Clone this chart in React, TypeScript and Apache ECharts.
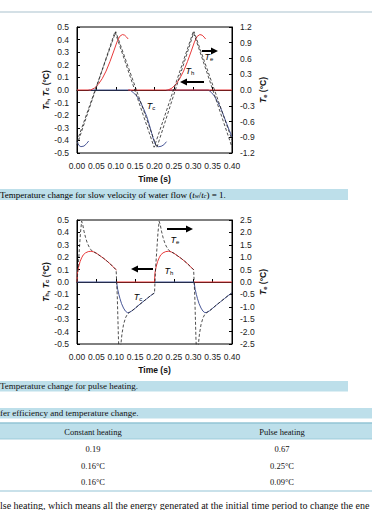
import React, { useEffect, useRef } from "react";
import * as echarts from "echarts";

type Pt = [number, number];

// ---------- Figure 1: slow velocity of water flow ----------
const slowTh: Pt[][] = [
  [[0, 0], [0.035, 0], [0.045, 0.015], [0.055, 0.045], [0.065, 0.09], [0.075, 0.15], [0.085, 0.225], [0.095, 0.31], [0.103, 0.38], [0.11, 0.425], [0.117, 0.44], [0.123, 0.435], [0.128, 0.42], [0.132, 0.405]],
  [[0.132, 0], [0.4, 0]],
  [[0.235, 0], [0.245, 0.015], [0.255, 0.045], [0.265, 0.09], [0.275, 0.15], [0.285, 0.225], [0.295, 0.31], [0.303, 0.38], [0.31, 0.425], [0.317, 0.44], [0.323, 0.435], [0.328, 0.42], [0.332, 0.405]],
];
const slowTc: Pt[][] = [
  [[0, -0.41], [0.005, -0.44], [0.01, -0.45], [0.018, -0.445], [0.025, -0.425], [0.03, -0.405]],
  [[0.03, 0], [0.137, 0], [0.145, -0.02], [0.155, -0.05], [0.163, -0.09], [0.172, -0.15], [0.18, -0.21], [0.187, -0.28], [0.193, -0.345], [0.198, -0.4], [0.203, -0.435], [0.21, -0.45], [0.217, -0.447], [0.224, -0.435], [0.231, -0.41]],
  [[0.231, 0], [0.339, 0], [0.347, -0.02], [0.355, -0.05], [0.362, -0.09], [0.369, -0.13], [0.378, -0.2], [0.386, -0.265], [0.393, -0.32], [0.4, -0.37]],
];
const slowTeA: Pt[][] = [[[0, -1.05], [0.098, 1.11], [0.199, -1.09], [0.3, 1.11], [0.4, -1.09]]];
const slowTeB: Pt[][] = [[[0, -0.98], [0.1, 1.11], [0.206, -1.1], [0.302, 1.11], [0.4, -0.95]]];

// ---------- Figure 2: pulse heating ----------
const pulseTh: Pt[][] = [
  [[0, 0], [0.001, 0.07], [0.004, 0.12], [0.008, 0.165], [0.012, 0.195], [0.016, 0.218], [0.022, 0.235], [0.029, 0.245], [0.036, 0.248], [0.043, 0.243], [0.051, 0.23], [0.06, 0.21], [0.069, 0.19], [0.078, 0.167], [0.086, 0.145], [0.094, 0.12], [0.102, 0.097]],
  [[0.102, 0], [0.2, 0], [0.201, 0.07], [0.204, 0.12], [0.208, 0.165], [0.212, 0.195], [0.216, 0.218], [0.222, 0.235], [0.229, 0.245], [0.236, 0.248], [0.243, 0.243], [0.251, 0.23], [0.26, 0.21], [0.269, 0.19], [0.278, 0.167], [0.286, 0.145], [0.294, 0.12], [0.302, 0.097]],
  [[0.302, 0], [0.4, 0]],
];
const pulseTc: Pt[][] = [
  [[0, 0], [0.102, 0], [0.105, -0.06], [0.108, -0.1], [0.111, -0.135], [0.115, -0.175], [0.12, -0.21], [0.125, -0.235], [0.13, -0.247], [0.135, -0.245], [0.142, -0.232], [0.15, -0.212], [0.16, -0.185], [0.17, -0.16], [0.18, -0.135], [0.19, -0.11], [0.2, -0.088]],
  [[0.2, 0], [0.302, 0], [0.305, -0.06], [0.308, -0.1], [0.311, -0.135], [0.315, -0.175], [0.32, -0.21], [0.325, -0.235], [0.33, -0.247], [0.335, -0.245], [0.342, -0.232], [0.35, -0.212], [0.36, -0.185], [0.37, -0.16], [0.38, -0.135], [0.39, -0.11], [0.4, -0.088]],
];
const pulseTe: Pt[][] = [[
  [0, 0], [0.003, 0.6], [0.006, 1.3], [0.009, 2.0], [0.012, 2.45], [0.015, 2.3], [0.018, 2.05], [0.022, 1.8], [0.026, 1.6], [0.03, 1.45], [0.035, 1.32], [0.04, 1.24], [0.045, 1.2], [0.051, 1.15], [0.06, 1.05], [0.069, 0.95], [0.078, 0.835], [0.086, 0.725], [0.094, 0.6], [0.101, 0.49],
  [0.104, -0.6], [0.107, -2.3], [0.109, -3.0], [0.111, -3.0], [0.113, -2.55], [0.116, -2.1], [0.12, -1.72], [0.125, -1.45], [0.13, -1.3], [0.135, -1.23], [0.142, -1.16], [0.15, -1.06], [0.16, -0.925], [0.17, -0.8], [0.18, -0.675], [0.19, -0.55], [0.2, -0.44],
  [0.203, 0.6], [0.206, 1.3], [0.209, 2.0], [0.212, 2.45], [0.215, 2.3], [0.218, 2.05], [0.222, 1.8], [0.226, 1.6], [0.23, 1.45], [0.235, 1.32], [0.24, 1.24], [0.245, 1.2], [0.251, 1.15], [0.26, 1.05], [0.269, 0.95], [0.278, 0.835], [0.286, 0.725], [0.294, 0.6], [0.301, 0.49],
  [0.304, -0.6], [0.307, -2.3], [0.309, -3.0], [0.311, -3.0], [0.313, -2.55], [0.316, -2.1], [0.32, -1.72], [0.325, -1.45], [0.33, -1.3], [0.335, -1.23], [0.342, -1.16], [0.35, -1.06], [0.36, -0.925], [0.37, -0.8], [0.38, -0.675], [0.39, -0.55], [0.4, -0.44],
]];

// ---------- Texts ----------
const caption1 = ["Temperature change for slow velocity of water flow (", "t", "w", "/", "t", "c", ") = 1."];
const caption2 = "Temperature change for pulse heating.";
const caption3 = "fer efficiency and temperature change.";
const tableHeader = ["Constant heating", "Pulse heating"];
const tableRows = [["0.19", "0.67"], ["0.16°C", "0.25°C"], ["0.16°C", "0.09°C"]];
const paragraph = "lse heating, which means all the energy generated at the initial time period to change the ene";

const SANS = "Liberation Sans";
const SERIF = "Liberation Serif";

function joinSegs(segs: Pt[][]): (number | null)[][] {
  const out: (number | null)[][] = [];
  segs.forEach((s, i) => {
    if (i > 0) out.push([null, null]);
    s.forEach((p) => out.push([p[0], p[1]]));
  });
  return out;
}

const axisNameRich = {
  b: { fontFamily: SANS, fontSize: 8.5, fontWeight: "bold", fontStyle: "italic", color: "#111" },
  sb: { fontFamily: SANS, fontSize: 6, fontWeight: "bold", color: "#111", verticalAlign: "bottom", lineHeight: 8 },
  n: { fontFamily: SANS, fontSize: 8.5, fontWeight: "bold", color: "#111" },
};

function xAxisCfg(gridIndex: number) {
  return {
    type: "value",
    gridIndex,
    min: 0,
    max: 0.4,
    interval: 0.05,
    axisLine: { show: true, lineStyle: { color: "#000", width: 1 } },
    axisTick: { show: true, inside: true, length: 3, lineStyle: { color: "#000" } },
    axisLabel: { fontFamily: SANS, fontSize: 8.5, color: "#222", margin: 8, formatter: (v: number) => v.toFixed(2) },
    splitLine: { show: false },
    name: "Time (s)",
    nameLocation: "middle",
    nameGap: 21,
    nameTextStyle: { fontFamily: SANS, fontSize: 8.5, fontWeight: "bold", color: "#111" },
  };
}

function yAxisCfg(gridIndex: number, pos: string, min: number, max: number, interval: number, name: string) {
  return {
    type: "value",
    gridIndex,
    position: pos,
    min,
    max,
    interval,
    axisLine: { show: true, lineStyle: { color: "#000", width: 1 } },
    axisTick: { show: true, inside: true, length: 3, lineStyle: { color: "#000" } },
    axisLabel: { fontFamily: SANS, fontSize: 8.5, color: "#222", margin: 8, formatter: (v: number) => v.toFixed(1) },
    splitLine: { show: false },
    name,
    nameLocation: "middle",
    nameRotate: 90,
    nameGap: 23,
    nameTextStyle: { rich: axisNameRich },
  };
}

function lineSeries(segs: Pt[][], xi: number, yi: number, color: string, dashed: boolean) {
  return {
    type: "line",
    xAxisIndex: xi,
    yAxisIndex: yi,
    data: joinSegs(segs),
    showSymbol: false,
    symbol: "none",
    connectNulls: false,
    clip: true,
    lineStyle: dashed ? { color: "#222", width: 0.8, type: [3, 2] } : { color, width: 1 },
    silent: true,
  };
}

function arrow(x1: number, x2: number, y: number) {
  const dir = x2 > x1 ? 1 : -1;
  const hx = x2 - dir * 7;
  return [
    { type: "line", shape: { x1, y1: y, x2: hx + dir * 1, y2: y }, style: { stroke: "#000", lineWidth: 2 } },
    { type: "polygon", shape: { points: [[hx, y - 3.5], [x2, y], [hx, y + 3.5]] }, style: { fill: "#000" } },
  ];
}

const labelRich = {
  i: { fontFamily: SANS, fontSize: 9, fontStyle: "italic", color: "#111" },
  s: { fontFamily: SANS, fontSize: 6, color: "#111", verticalAlign: "bottom", lineHeight: 7 },
};
function tLabel(sub: string, x: number, y: number) {
  return { type: "text", x, y, style: { text: `{i|T}{s|${sub}}`, rich: labelRich, align: "center", verticalAlign: "middle" } };
}

const capRich = {
  n: { fontFamily: SERIF, fontSize: 9, color: "#111" },
  i: { fontFamily: SERIF, fontSize: 9, fontStyle: "italic", color: "#111" },
  s: { fontFamily: SERIF, fontSize: 6, fontStyle: "italic", color: "#111", verticalAlign: "bottom", lineHeight: 7 },
};

export default function App() {
  const ref = useRef<HTMLDivElement>(null);
  useEffect(() => {
    if (!ref.current) return;
    const chart = echarts.init(ref.current, null, { renderer: "svg" });
    const BAND = "#bddfea";
    const LINE = "#93c4d5";
    const graphic: any[] = [
      { type: "line", shape: { x1: 0, y1: 12, x2: 372, y2: 12 }, style: { stroke: "#c6d6de", lineWidth: 1.5 } },
      // caption 1
      { type: "rect", shape: { x: 0, y: 189, width: 348, height: 11 }, style: { fill: BAND } },
      {
        type: "text", x: 0, y: 194.5,
        style: {
          text: `{n|${caption1[0]}}{i|${caption1[1]}}{s|${caption1[2]}}{n|${caption1[3]}}{i|${caption1[4]}}{s|${caption1[5]}}{n|${caption1[6]}}`,
          rich: capRich, verticalAlign: "middle",
        },
      },
      // caption 2
      { type: "rect", shape: { x: 0, y: 381, width: 348, height: 10.5 }, style: { fill: BAND } },
      { type: "text", x: 0, y: 386.2, style: { text: caption2, fontFamily: SERIF, fontSize: 9, fill: "#111", verticalAlign: "middle" } },
      // caption 3
      { type: "rect", shape: { x: 0, y: 408, width: 372, height: 10.5 }, style: { fill: BAND } },
      { type: "text", x: 0, y: 413.2, style: { text: caption3, fontFamily: SERIF, fontSize: 9, fill: "#111", verticalAlign: "middle" } },
      // table
      { type: "rect", shape: { x: 0, y: 423, width: 372, height: 16 }, style: { fill: BAND } },
      { type: "line", shape: { x1: 0, y1: 423, x2: 372, y2: 423 }, style: { stroke: LINE, lineWidth: 1.5 } },
      { type: "line", shape: { x1: 0, y1: 439, x2: 372, y2: 439 }, style: { stroke: LINE, lineWidth: 0.8 } },
      { type: "text", x: 93, y: 431.5, style: { text: tableHeader[0], fontFamily: SERIF, fontSize: 8.5, fill: "#111", align: "center", verticalAlign: "middle" } },
      { type: "text", x: 282, y: 431.5, style: { text: tableHeader[1], fontFamily: SERIF, fontSize: 8.5, fill: "#111", align: "center", verticalAlign: "middle" } },
      ...tableRows.flatMap((r, i) => [
        { type: "text", x: 93, y: 449 + i * 16.7, style: { text: r[0], fontFamily: SERIF, fontSize: 8.5, fill: "#111", align: "center", verticalAlign: "middle" } },
        { type: "text", x: 282, y: 449 + i * 16.7, style: { text: r[1], fontFamily: SERIF, fontSize: 8.5, fill: "#111", align: "center", verticalAlign: "middle" } },
      ]),
      { type: "line", shape: { x1: 0, y1: 491, x2: 372, y2: 491 }, style: { stroke: LINE, lineWidth: 1.2 } },
      { type: "text", x: 0, y: 505, style: { text: paragraph, fontFamily: SERIF, fontSize: 10, fill: "#111", verticalAlign: "middle" } },
      // annotations figure 1
      ...arrow(202, 218, 51),
      ...arrow(204, 180, 82),
      tLabel("e", 209, 57),
      tLabel("h", 190, 71),
      tLabel("c", 151, 106),
      // annotations figure 2
      ...arrow(167, 193, 229),
      ...arrow(153, 131, 269),
      tLabel("e", 175, 240),
      tLabel("h", 169, 271),
      tLabel("c", 138, 297),
    ];

    chart.setOption({
      animation: false,
      backgroundColor: "#fff",
      grid: [
        { left: 77, top: 27, width: 155, height: 126, show: true, borderColor: "#000", borderWidth: 1, backgroundColor: "transparent" },
        { left: 77, top: 220, width: 155, height: 124, show: true, borderColor: "#000", borderWidth: 1, backgroundColor: "transparent" },
      ],
      xAxis: [xAxisCfg(0), xAxisCfg(1)],
      yAxis: [
        yAxisCfg(0, "left", -0.5, 0.5, 0.1, "{b|T}{sb|h}{n|, }{b|T}{sb|c}{n| (°C)}"),
        yAxisCfg(0, "right", -1.2, 1.2, 0.3, "{b|T}{sb|e}{n| (°C)}"),
        yAxisCfg(1, "left", -0.5, 0.5, 0.1, "{b|T}{sb|h}{n|, }{b|T}{sb|c}{n| (°C)}"),
        yAxisCfg(1, "right", -2.5, 2.5, 0.5, "{b|T}{sb|e}{n| (°C)}"),
      ],
      series: [
        lineSeries(slowTc, 0, 0, "#4a5898", false),
        lineSeries(slowTh, 0, 0, "#e8393a", false),
        lineSeries(slowTeA, 0, 1, "#222", true),
        lineSeries(slowTeB, 0, 1, "#222", true),
        lineSeries(pulseTc, 1, 2, "#4a5898", false),
        lineSeries(pulseTh, 1, 2, "#e8393a", false),
        lineSeries(pulseTe, 1, 3, "#222", true),
      ],
      graphic,
    });
    return () => chart.dispose();
  }, []);
  return <div ref={ref} style={{ position: "absolute", left: 0, top: 0, width: 372, height: 510 }} />;
}
